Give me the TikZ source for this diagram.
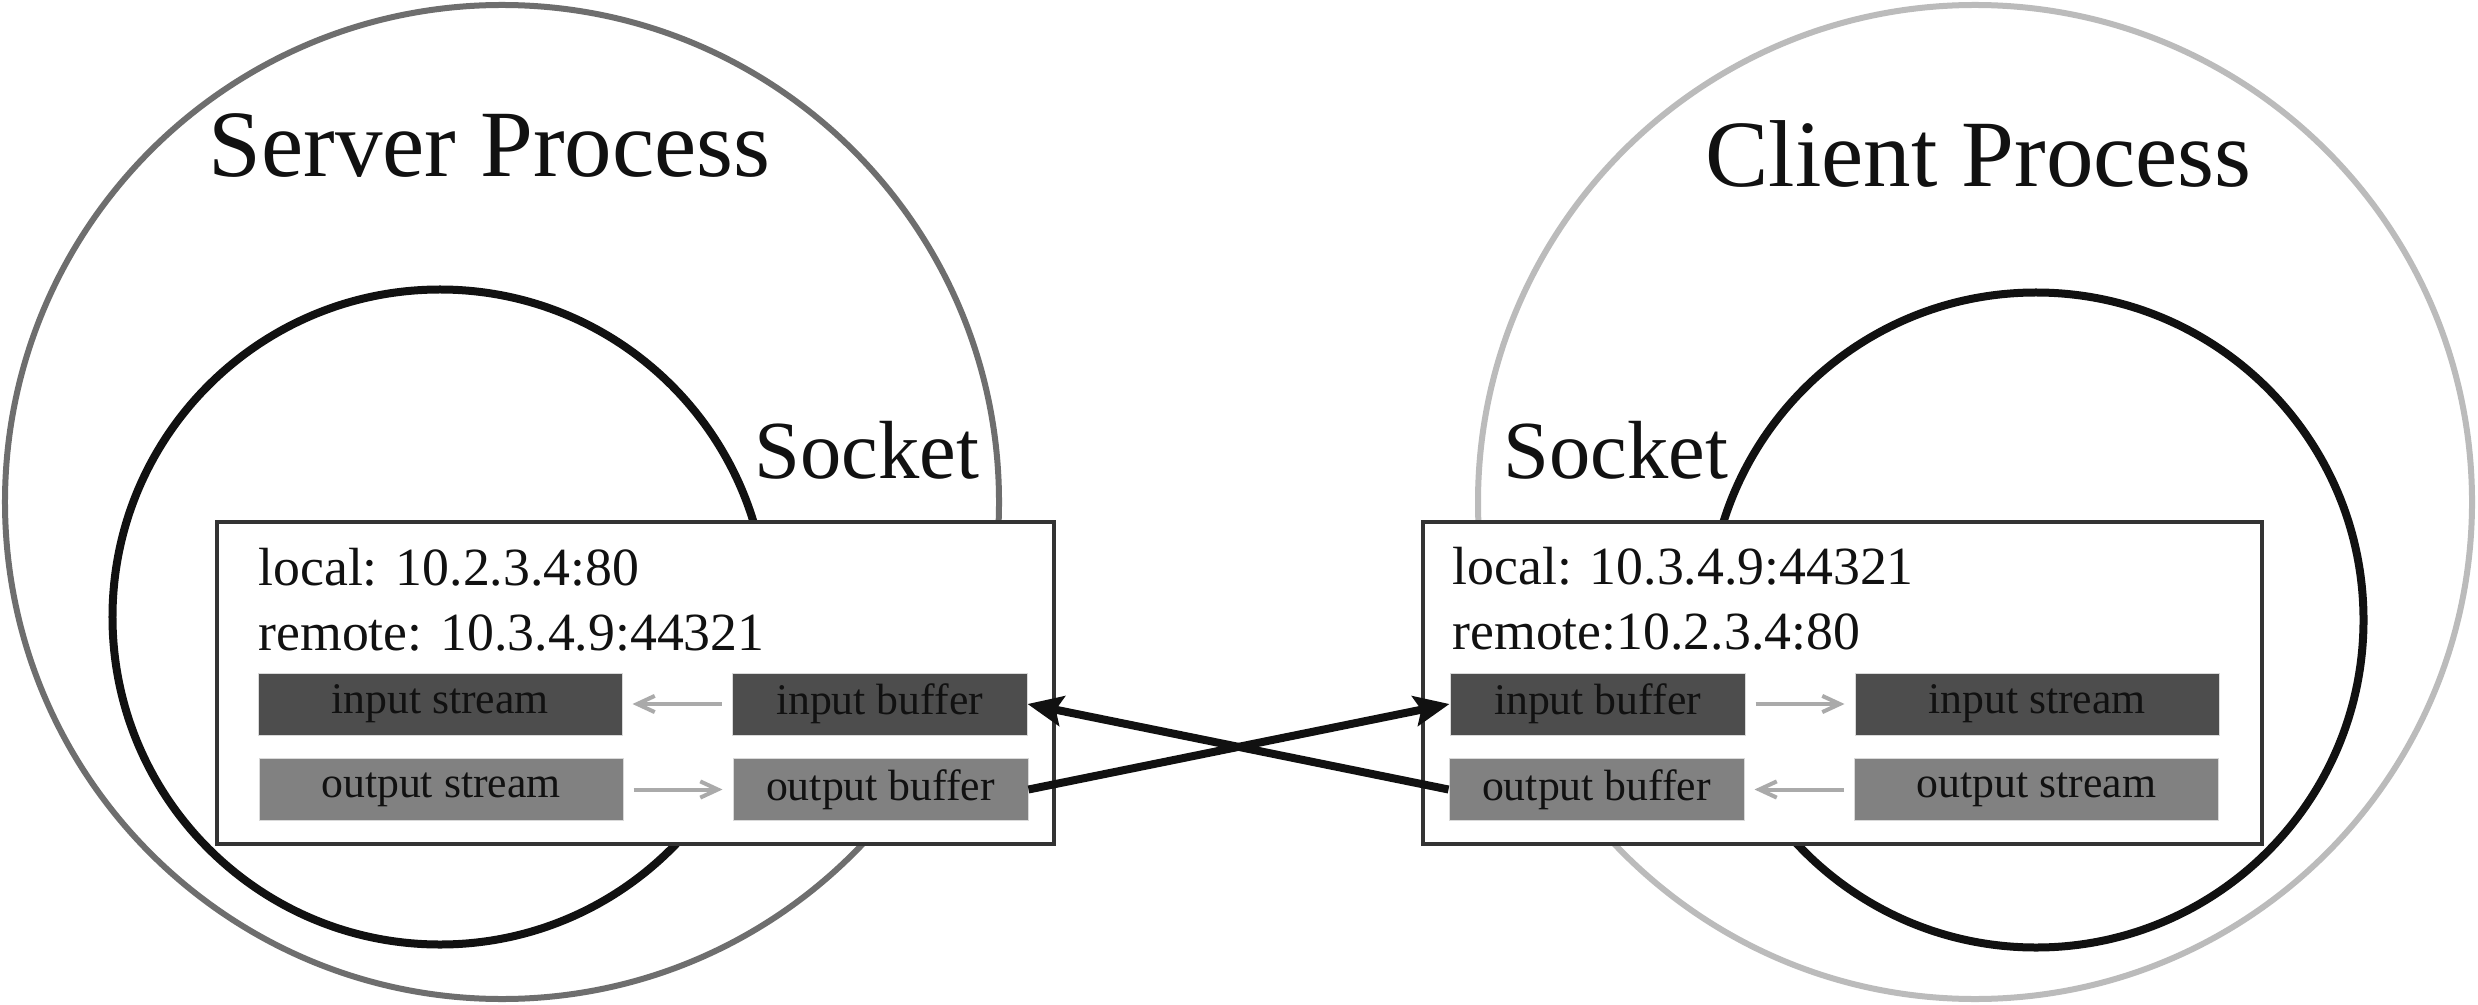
\documentclass[tikz,border=0pt]{standalone}
\usepackage{fontspec}
\setmainfont{Liberation Serif}
\usetikzlibrary{arrows.meta}
\definecolor{srvgray}{HTML}{6E6E6E}
\definecolor{cligray}{HTML}{BBBBBB}
\definecolor{inkblack}{HTML}{111111}
\definecolor{boxline}{HTML}{333333}
\definecolor{infill}{HTML}{4D4D4D}
\definecolor{outfill}{HTML}{818181}
\definecolor{thinarrow}{HTML}{AAAAAA}
\tikzset{
  proc/.style={circle, draw, line width=2.4pt, inner sep=0pt, minimum size=397.6pt},
  sockcirc/.style={circle, draw=inkblack, line width=3.2pt, inner sep=0pt, minimum size=262pt},
  sockbox/.style={rectangle, draw=boxline, fill=white, line width=1.6pt, inner sep=0pt, minimum height=128.8pt},
  label/.style={inner sep=0pt, anchor=base west, text=inkblack},
  title/.style={label, font=\fontsize{38}{40}\selectfont},
  socklabel/.style={label, font=\fontsize{33}{36}\selectfont},
  addr/.style={label, font=\fontsize{21.5}{24}\selectfont},
  strm/.style={rectangle, draw=black!15, line width=0.4pt, inner sep=0pt, minimum height=24.8pt, text=inkblack, font=\fontsize{17.5}{19}\selectfont},
  instrm/.style={strm, fill=infill},
  outstrm/.style={strm, fill=outfill},
  wide/.style={minimum width=145.6pt},
  narrow/.style={minimum width=118pt},
  flow/.style={draw=thinarrow, line width=1.6pt, -{Straight Barb[length=7pt,width=6.5pt]}, shorten >=4pt, shorten <=4pt},
  net/.style={draw=inkblack, line width=3.2pt, -{Stealth[length=14pt,width=12pt,inset=2.5pt]}}
}
\begin{document}
\begin{tikzpicture}[x=0.4pt,y=-0.4pt]
\useasboundingbox[fill=white] (0,0) rectangle (2478,1005);
% process circles
\node[proc, draw=srvgray] (server) at (502,502) {};
\node[proc, draw=cligray] (client) at (1975,502) {};
% socket circles
\node[sockcirc] (ssock) at (440,617) {};
\node[sockcirc] (csock) at (2036,620) {};
% titles
\node[title] (stitle) at (208,177) {Server Process};
\node[title] (ctitle) at (1705,187) {Client Process};
\node[socklabel] (slab) at (754,478) {Socket};
\node[socklabel] (clab) at (1503,478) {Socket};
% socket boxes
\node[sockbox, minimum width=334.8pt] (sbox) at (635.5,683) {};
\node[sockbox, minimum width=335.6pt] (cbox) at (1842.5,683) {};
% addresses
\node[addr] (sloc) at (258,585) {local: 10.2.3.4:80};
\node[addr] (srem) at (258,650) {remote: 10.3.4.9:44321};
\node[addr] (cloc) at (1452,584) {local: 10.3.4.9:44321};
\node[addr] (crem) at (1452,649) {remote:10.2.3.4:80};
% streams and buffers
\node[instrm, wide] (sis) at (440,704) {input stream};
\node[instrm, narrow] (sib) at (879.5,704) {input buffer};
\node[outstrm, wide] (sos) at (441,789.5) {output stream};
\node[outstrm, narrow] (sob) at (880.5,789.5) {output buffer};
\node[instrm, narrow] (cib) at (1597.5,704) {input buffer};
\node[outstrm, narrow] (cob) at (1596.5,789.5) {output buffer};
\node[instrm, wide] (cis) at (2037,704) {input stream};
\node[outstrm, wide] (cos) at (2036.5,789.5) {output stream};
% internal flows
\draw[flow] (sib) -- (sis);
\draw[flow] (sos) -- (sob);
\draw[flow] (cib) -- (cis);
\draw[flow] (cos) -- (cob);
% network
\draw[net] (sob.east) -- (cib.west);
\draw[net] (cob.west) -- (sib.east);
\end{tikzpicture}
\end{document}
